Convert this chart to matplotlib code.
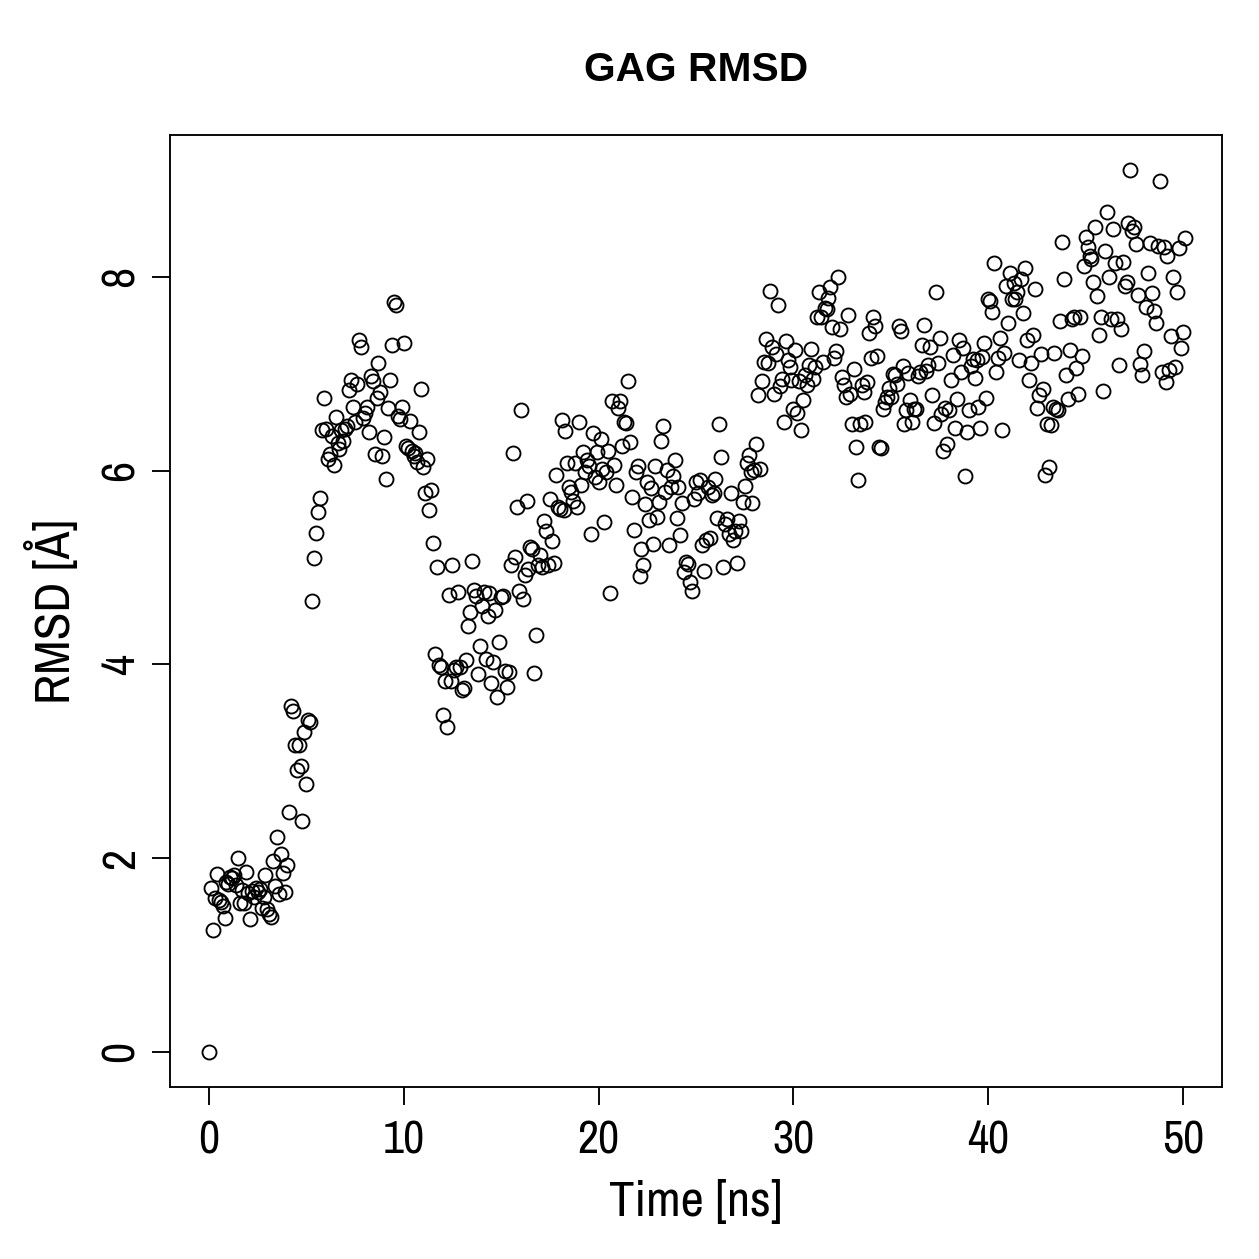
import numpy as np
import matplotlib
matplotlib.use("Agg")
import matplotlib.pyplot as plt
from matplotlib import font_manager

available = {f.name for f in font_manager.fontManager.ttflist}
narrow = 'Archivo Narrow' if 'Archivo Narrow' in available else 'Liberation Sans'
plt.rcParams['font.family'] = [narrow, 'DejaVu Sans']

title = "GAG RMSD"
xlabel = "Time [ns]"
ylabel = "RMSD [Å]"
xticks = [0, 10, 20, 30, 40, 50]
yticks = [0, 2, 4, 6, 8]

rmsd = [
    0.00, 1.69, 1.26, 1.59, 1.83, 1.57, 1.55, 1.50, 1.38, 1.75,
    1.73, 1.80, 1.79, 1.82, 1.72, 2.00, 1.54, 1.67, 1.54, 1.86, 1.64,
    1.37, 1.66, 1.60, 1.69, 1.65, 1.68, 1.48, 1.60, 1.82, 1.47, 1.42, 1.39,
    1.97, 1.71, 2.22, 1.63, 2.04, 1.85, 1.65, 1.93, 2.48, 3.57,
    3.52, 3.17, 2.91, 3.17, 2.95, 2.38, 3.30, 2.76, 3.42, 3.40,
    4.65, 5.10, 5.36, 5.57, 5.72, 6.42, 6.75, 6.43, 6.12, 6.17,
    6.36, 6.06, 6.55, 6.28, 6.22, 6.42, 6.31, 6.43, 6.46, 6.83, 6.93,
    6.66, 6.50, 6.89, 7.35, 7.28, 6.54, 6.59, 6.66, 6.40, 6.98,
    6.92, 6.17, 6.75, 7.11, 6.81, 6.15, 6.35, 5.91, 6.65, 6.93,
    7.30, 7.74, 7.71, 6.56, 6.53, 6.66, 7.32, 6.25, 6.23, 6.51,
    6.20, 6.15, 6.18, 6.09, 6.40, 6.84, 6.04, 5.77, 6.12, 5.59, 5.80,
    5.25, 4.11, 5.00, 3.99, 3.97, 3.48, 3.83, 3.35, 4.72, 3.83,
    5.03, 3.94, 3.97, 4.75, 3.97, 3.73, 3.75, 4.04, 4.39, 4.54,
    5.07, 4.77, 4.70, 3.90, 4.19, 4.60, 4.75, 4.05, 4.50, 4.74, 3.81,
    4.02, 4.56, 3.66, 4.23, 4.69, 4.71, 3.93, 3.77, 3.92, 5.03,
    6.18, 5.11, 5.62, 4.76, 6.62, 4.67, 4.92, 5.69, 4.98, 5.21,
    5.19, 3.91, 4.30, 5.02, 5.13, 5.00, 5.48, 5.38, 5.02, 5.71,
    5.27, 5.05, 5.95, 5.62, 5.60, 6.52, 5.59, 6.41, 6.08, 5.83, 5.78,
    5.69, 6.08, 5.62, 6.50, 5.85, 6.19, 5.98, 6.11, 6.05, 5.35, 6.39,
    5.93, 6.19, 5.88, 6.33, 6.02, 5.47, 5.99, 6.20, 4.74, 6.72, 6.06,
    5.85, 6.65, 6.72, 6.25, 6.50, 6.49, 6.92, 6.29, 5.73, 5.39,
    5.98, 6.05, 4.91, 5.19, 5.02, 5.65, 5.88, 5.49, 5.82, 5.24,
    6.05, 5.52, 5.68, 6.30, 6.46, 5.78, 6.01, 5.23, 5.83, 5.94,
    6.11, 5.51, 5.83, 5.33, 5.67, 4.95, 5.06, 5.04, 4.85, 4.76,
    5.71, 5.88, 5.77, 5.90, 5.23, 4.96, 5.28, 5.83, 5.30, 5.75,
    5.77, 5.91, 5.51, 6.48, 6.14, 5.00, 5.45, 5.50, 5.34, 5.77,
    5.28, 5.38, 5.05, 5.48, 5.38, 5.68, 5.84, 6.08, 6.16, 5.99,
    5.67, 6.01, 6.27, 6.78, 6.02, 6.92, 7.12, 7.36, 7.11, 7.85,
    7.28, 6.79, 7.20, 7.71, 6.87, 6.95, 6.50, 7.34, 7.14, 7.07,
    6.93, 6.64, 7.24, 6.59, 6.92, 6.42, 6.73, 6.99, 6.88, 7.09,
    7.25, 6.95, 7.07, 7.59, 7.84, 7.58, 7.12, 7.68, 7.67, 7.78,
    7.89, 7.48, 7.16, 7.23, 8.00, 7.46, 6.97, 6.88, 6.76, 7.61,
    6.79, 6.48, 7.05, 6.24, 5.90, 6.48, 6.88, 6.81, 6.50, 6.91,
    7.42, 7.16, 7.59, 7.49, 7.18, 6.24, 6.23, 6.64, 6.71, 6.76,
    6.85, 6.76, 7.00, 6.99, 6.89, 7.49, 7.44, 7.08, 6.48, 6.62,
    7.01, 6.73, 6.50, 6.64, 6.64, 6.98, 7.02, 7.30, 7.50, 7.03,
    7.09, 7.28, 6.78, 6.49, 7.84, 7.11, 7.37, 6.58, 6.20, 6.65,
    6.27, 6.63, 6.93, 7.19, 6.44, 6.74, 7.35, 7.02, 7.27, 5.94,
    6.40, 6.62, 7.08, 7.15, 6.96, 7.14, 6.66, 6.44, 7.17, 7.32,
    6.75, 7.77, 7.75, 7.64, 8.14, 7.02, 7.16, 7.37, 6.42, 7.21,
    7.91, 7.52, 8.04, 7.77, 7.94, 7.77, 7.84, 7.14, 7.98, 7.63,
    8.09, 7.35, 6.93, 7.11, 7.40, 7.87, 6.65, 6.78, 7.20, 6.84,
    5.95, 6.48, 6.04, 6.47, 6.66, 7.21, 6.64, 6.62, 7.54, 8.36,
    7.98, 6.99, 6.74, 7.24, 7.56, 7.59, 7.06, 6.79, 7.59, 7.18,
    8.11, 8.41, 8.31, 8.22, 8.18, 7.95, 8.51, 7.80, 7.40, 7.59,
    6.82, 8.27, 8.67, 8.00, 7.56, 8.49, 8.14, 7.56, 7.09, 7.46,
    8.15, 7.91, 7.95, 8.56, 9.10, 8.47, 8.51, 8.34, 7.81, 7.10,
    6.99, 7.23, 7.69, 8.04, 8.35, 7.83, 7.65, 7.52, 8.32, 8.99,
    7.02, 8.31, 6.91, 8.21, 7.04, 7.39, 8.00, 7.07, 7.84, 8.30,
    7.26, 7.43, 8.40,
]
time = np.arange(len(rmsd)) * 0.1

W = H = 1259
dpi = 180
fig = plt.figure(figsize=(W / dpi, H / dpi), dpi=dpi)
ax = fig.add_axes([170 / W, 1 - 1087 / H, (1222 - 170) / W, (1087 - 135) / H])

ax.plot(time, rmsd, linestyle='none', marker='o', markersize=5.6,
        markerfacecolor='none', markeredgecolor='black', markeredgewidth=0.75)

ax.set_xlim(-2, 52)
ax.set_ylim(-0.364, 9.464)
ax.set_xticks(xticks)
ax.set_yticks(yticks)
ax.set_xticklabels([str(v) for v in xticks], fontsize=18.5)
ax.set_yticklabels([str(v) for v in yticks], fontsize=18.5, rotation=90, va='center')
ax.tick_params(direction='out', length=7.2, width=0.75, pad=6)
ax.tick_params(axis='y', pad=4)
for s in ax.spines.values():
    s.set_linewidth(0.75)

fig.text(696 / W, 1 - 70 / H, title, ha='center', va='center', fontsize=16.3,
         fontweight='bold', family=['Liberation Sans', 'DejaVu Sans'])
fig.text(696 / W, 1 - 1203 / H, xlabel, ha='center', va='center', fontsize=20.3)
fig.text(52 / W, 1 - 611 / H, ylabel, ha='center', va='center', fontsize=20.3, rotation=90)

fig.savefig("out.png", dpi=dpi)
